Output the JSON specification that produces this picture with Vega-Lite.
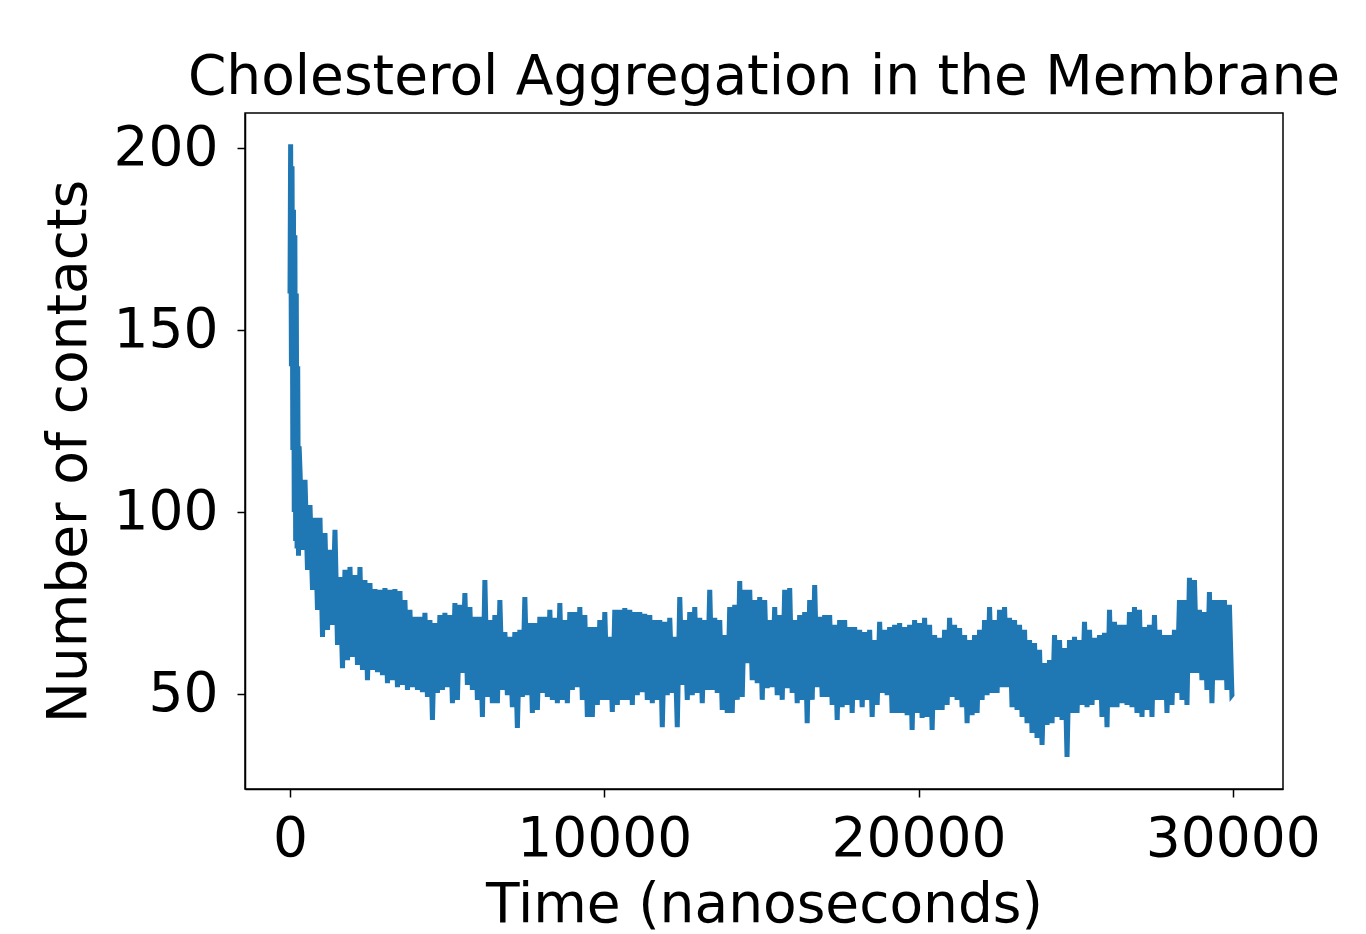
{
  "$schema": "https://vega.github.io/schema/vega-lite/v6.json",
  "width": 1038,
  "height": 676,
  "autosize": {"type": "none"},
  "padding": {"left": 245, "top": 113, "right": 83, "bottom": 145},
  "background": "white",
  "config": {
    "font": "DejaVu Sans",
    "view": {"stroke": "#000000", "strokeWidth": 1.5},
    "axis": {
      "labelFont": "DejaVu Sans",
      "titleFont": "DejaVu Sans",
      "labelFontSize": 55,
      "titleFontSize": 55,
      "titleFontWeight": "normal",
      "labelColor": "#000000",
      "titleColor": "#000000",
      "tickColor": "#000000",
      "tickSize": 8,
      "tickWidth": 1.5,
      "domainColor": "#000000",
      "domainWidth": 1.5,
      "grid": false
    }
  },
  "title": {
    "text": "Cholesterol Aggregation in the Membrane",
    "font": "DejaVu Sans",
    "fontSize": 55,
    "fontWeight": "normal",
    "color": "#000000",
    "anchor": "middle",
    "baseline": "alphabetic",
    "offset": 16,
    "dy": 52
  },
  "data": {
    "values": [
      {"t":0,"c":160},{"t":20,"c":201},{"t":45,"c":140},{"t":65,"c":195},{"t":90,"c":117},{"t":110,"c":183},{"t":135,"c":100},{"t":155,"c":176},{"t":180,"c":92},{"t":200,"c":160},{"t":225,"c":90},{"t":245,"c":140},{"t":270,"c":88},{"t":290,"c":118},
      {"t":318,"c":111.5},{"t":398,"c":89.6},
      {"t":477,"c":108.8},{"t":557,"c":84.1},
      {"t":636,"c":101.9},{"t":716,"c":78.6},
      {"t":795,"c":98.4},{"t":875,"c":73.1},
      {"t":954,"c":98.4},{"t":1034,"c":65.7},
      {"t":1113,"c":94.2},{"t":1193,"c":67.6},
      {"t":1272,"c":89.6},{"t":1352,"c":69.0},
      {"t":1431,"c":95.1},{"t":1511,"c":63.5},
      {"t":1590,"c":82.1},{"t":1670,"c":57.1},
      {"t":1749,"c":84.1},{"t":1829,"c":59.3},
      {"t":1908,"c":84.9},{"t":1988,"c":60.2},
      {"t":2067,"c":82.7},{"t":2147,"c":58.0},
      {"t":2226,"c":84.9},{"t":2306,"c":56.6},
      {"t":2385,"c":81.3},{"t":2465,"c":53.8},
      {"t":2544,"c":80.5},{"t":2624,"c":56.6},
      {"t":2703,"c":78.8},{"t":2783,"c":56.0},
      {"t":2862,"c":78.6},{"t":2942,"c":55.2},
      {"t":3021,"c":79.1},{"t":3101,"c":53.0},
      {"t":3180,"c":78.6},{"t":3260,"c":53.8},
      {"t":3339,"c":78.8},{"t":3419,"c":51.9},
      {"t":3498,"c":78.3},{"t":3578,"c":52.5},
      {"t":3657,"c":75.8},{"t":3737,"c":51.1},
      {"t":3816,"c":73.1},{"t":3896,"c":51.9},
      {"t":3975,"c":71.2},{"t":4055,"c":51.1},
      {"t":4134,"c":71.2},{"t":4214,"c":50.5},
      {"t":4293,"c":72.3},{"t":4373,"c":49.2},
      {"t":4452,"c":70.3},{"t":4532,"c":42.9},
      {"t":4611,"c":69.5},{"t":4691,"c":50.3},
      {"t":4770,"c":71.7},{"t":4850,"c":51.1},
      {"t":4929,"c":72.3},{"t":5009,"c":51.9},
      {"t":5088,"c":71.7},{"t":5168,"c":47.5},
      {"t":5247,"c":75.0},{"t":5327,"c":48.4},
      {"t":5406,"c":74.5},{"t":5486,"c":55.8},
      {"t":5565,"c":77.7},{"t":5645,"c":52.5},
      {"t":5724,"c":73.9},{"t":5804,"c":51.1},
      {"t":5883,"c":71.2},{"t":5963,"c":48.4},
      {"t":6042,"c":71.2},{"t":6122,"c":43.7},
      {"t":6201,"c":81.3},{"t":6281,"c":49.2},
      {"t":6360,"c":70.3},{"t":6440,"c":47.5},
      {"t":6519,"c":71.7},{"t":6599,"c":47.5},
      {"t":6678,"c":75.8},{"t":6758,"c":51.1},
      {"t":6837,"c":67.0},{"t":6917,"c":49.7},
      {"t":6996,"c":65.7},{"t":7076,"c":46.4},
      {"t":7155,"c":67.0},{"t":7235,"c":40.7},
      {"t":7314,"c":67.6},{"t":7394,"c":49.2},
      {"t":7473,"c":76.6},{"t":7553,"c":49.7},
      {"t":7632,"c":69.5},{"t":7712,"c":44.8},
      {"t":7791,"c":69.5},{"t":7871,"c":45.6},
      {"t":7950,"c":71.2},{"t":8030,"c":50.3},
      {"t":8109,"c":71.2},{"t":8189,"c":49.2},
      {"t":8268,"c":73.1},{"t":8348,"c":48.4},
      {"t":8427,"c":70.9},{"t":8507,"c":47.5},
      {"t":8586,"c":75.0},{"t":8666,"c":48.4},
      {"t":8745,"c":70.3},{"t":8825,"c":47.5},
      {"t":8904,"c":72.5},{"t":8984,"c":51.1},
      {"t":9063,"c":72.5},{"t":9143,"c":51.9},
      {"t":9222,"c":73.9},{"t":9302,"c":48.4},
      {"t":9381,"c":71.7},{"t":9461,"c":43.7},
      {"t":9540,"c":68.4},{"t":9620,"c":43.7},
      {"t":9699,"c":68.4},{"t":9779,"c":47.0},
      {"t":9858,"c":70.3},{"t":9938,"c":48.4},
      {"t":10017,"c":72.5},{"t":10097,"c":48.4},
      {"t":10176,"c":65.7},{"t":10256,"c":45.1},
      {"t":10335,"c":73.1},{"t":10415,"c":47.0},
      {"t":10494,"c":73.1},{"t":10574,"c":48.4},
      {"t":10653,"c":73.6},{"t":10733,"c":48.4},
      {"t":10812,"c":73.1},{"t":10892,"c":47.0},
      {"t":10971,"c":72.5},{"t":11051,"c":49.7},
      {"t":11130,"c":72.5},{"t":11210,"c":50.5},
      {"t":11289,"c":72.0},{"t":11369,"c":48.4},
      {"t":11448,"c":71.7},{"t":11528,"c":47.5},
      {"t":11607,"c":70.3},{"t":11687,"c":48.4},
      {"t":11766,"c":70.3},{"t":11846,"c":40.9},
      {"t":11925,"c":69.8},{"t":12005,"c":49.7},
      {"t":12084,"c":70.9},{"t":12164,"c":50.3},
      {"t":12243,"c":65.7},{"t":12323,"c":40.9},
      {"t":12402,"c":76.6},{"t":12482,"c":52.5},
      {"t":12561,"c":70.3},{"t":12641,"c":48.4},
      {"t":12720,"c":72.5},{"t":12800,"c":49.7},
      {"t":12879,"c":73.9},{"t":12959,"c":50.3},
      {"t":13038,"c":70.9},{"t":13118,"c":47.5},
      {"t":13197,"c":70.3},{"t":13277,"c":51.1},
      {"t":13356,"c":78.6},{"t":13436,"c":51.1},
      {"t":13515,"c":70.9},{"t":13595,"c":50.3},
      {"t":13674,"c":70.3},{"t":13754,"c":45.6},
      {"t":13833,"c":66.2},{"t":13913,"c":44.8},
      {"t":13992,"c":73.9},{"t":14072,"c":44.8},
      {"t":14151,"c":74.5},{"t":14231,"c":48.4},
      {"t":14310,"c":81.0},{"t":14390,"c":49.2},
      {"t":14469,"c":78.6},{"t":14549,"c":58.5},
      {"t":14628,"c":78.6},{"t":14708,"c":53.8},
      {"t":14787,"c":75.8},{"t":14867,"c":53.0},
      {"t":14946,"c":76.6},{"t":15026,"c":48.4},
      {"t":15105,"c":75.8},{"t":15185,"c":51.6},
      {"t":15264,"c":70.3},{"t":15344,"c":51.9},
      {"t":15423,"c":73.9},{"t":15503,"c":49.7},
      {"t":15582,"c":71.7},{"t":15662,"c":48.4},
      {"t":15741,"c":78.6},{"t":15821,"c":51.6},
      {"t":15900,"c":79.1},{"t":15980,"c":50.3},
      {"t":16059,"c":70.3},{"t":16139,"c":47.5},
      {"t":16218,"c":71.7},{"t":16298,"c":48.4},
      {"t":16377,"c":72.5},{"t":16457,"c":42.0},
      {"t":16536,"c":75.8},{"t":16616,"c":48.4},
      {"t":16695,"c":79.9},{"t":16775,"c":51.9},
      {"t":16854,"c":71.2},{"t":16934,"c":49.2},
      {"t":17013,"c":71.7},{"t":17093,"c":49.2},
      {"t":17172,"c":71.7},{"t":17252,"c":47.0},
      {"t":17331,"c":69.0},{"t":17411,"c":42.9},
      {"t":17490,"c":70.3},{"t":17570,"c":46.4},
      {"t":17649,"c":70.3},{"t":17729,"c":47.0},
      {"t":17808,"c":68.4},{"t":17888,"c":44.8},
      {"t":17967,"c":68.4},{"t":18047,"c":48.4},
      {"t":18126,"c":67.6},{"t":18206,"c":46.4},
      {"t":18285,"c":67.0},{"t":18365,"c":48.4},
      {"t":18444,"c":67.6},{"t":18524,"c":43.7},
      {"t":18603,"c":64.8},{"t":18683,"c":47.0},
      {"t":18762,"c":69.8},{"t":18842,"c":50.3},
      {"t":18921,"c":67.6},{"t":19001,"c":49.7},
      {"t":19080,"c":68.4},{"t":19160,"c":44.8},
      {"t":19239,"c":69.0},{"t":19319,"c":44.8},
      {"t":19398,"c":69.5},{"t":19478,"c":44.8},
      {"t":19557,"c":68.4},{"t":19637,"c":44.2},
      {"t":19716,"c":69.0},{"t":19796,"c":40.1},
      {"t":19875,"c":70.3},{"t":19955,"c":44.8},
      {"t":20034,"c":69.5},{"t":20114,"c":43.4},
      {"t":20193,"c":70.9},{"t":20273,"c":43.7},
      {"t":20352,"c":69.0},{"t":20432,"c":40.1},
      {"t":20511,"c":66.2},{"t":20591,"c":45.6},
      {"t":20670,"c":65.4},{"t":20750,"c":45.6},
      {"t":20829,"c":67.6},{"t":20909,"c":47.0},
      {"t":20988,"c":70.9},{"t":21068,"c":49.2},
      {"t":21147,"c":69.0},{"t":21227,"c":48.4},
      {"t":21306,"c":68.1},{"t":21386,"c":46.4},
      {"t":21465,"c":66.2},{"t":21545,"c":42.0},
      {"t":21624,"c":64.8},{"t":21704,"c":44.2},
      {"t":21783,"c":66.2},{"t":21863,"c":44.8},
      {"t":21942,"c":67.6},{"t":22022,"c":48.4},
      {"t":22101,"c":70.3},{"t":22181,"c":49.7},
      {"t":22260,"c":73.9},{"t":22340,"c":50.3},
      {"t":22419,"c":70.3},{"t":22499,"c":50.3},
      {"t":22578,"c":73.1},{"t":22658,"c":51.9},
      {"t":22737,"c":73.9},{"t":22817,"c":51.9},
      {"t":22896,"c":70.9},{"t":22976,"c":46.4},
      {"t":23055,"c":70.3},{"t":23135,"c":45.6},
      {"t":23214,"c":69.0},{"t":23294,"c":43.7},
      {"t":23373,"c":67.6},{"t":23453,"c":42.0},
      {"t":23532,"c":64.8},{"t":23612,"c":39.3},
      {"t":23691,"c":64.0},{"t":23771,"c":37.9},
      {"t":23850,"c":62.1},{"t":23930,"c":36.0},
      {"t":24009,"c":58.5},{"t":24089,"c":41.5},
      {"t":24168,"c":59.3},{"t":24248,"c":42.0},
      {"t":24327,"c":66.2},{"t":24407,"c":43.7},
      {"t":24486,"c":64.8},{"t":24566,"c":42.9},
      {"t":24645,"c":62.6},{"t":24725,"c":32.7},
      {"t":24804,"c":64.8},{"t":24884,"c":44.8},
      {"t":24963,"c":65.7},{"t":25043,"c":44.8},
      {"t":25122,"c":64.8},{"t":25202,"c":47.0},
      {"t":25281,"c":69.8},{"t":25361,"c":46.4},
      {"t":25440,"c":67.6},{"t":25520,"c":47.0},
      {"t":25599,"c":65.4},{"t":25679,"c":48.4},
      {"t":25758,"c":66.2},{"t":25838,"c":43.7},
      {"t":25917,"c":66.8},{"t":25997,"c":40.9},
      {"t":26076,"c":73.1},{"t":26156,"c":46.4},
      {"t":26235,"c":69.8},{"t":26315,"c":46.4},
      {"t":26394,"c":69.0},{"t":26474,"c":47.5},
      {"t":26553,"c":69.0},{"t":26633,"c":47.0},
      {"t":26712,"c":72.5},{"t":26792,"c":46.4},
      {"t":26871,"c":73.9},{"t":26951,"c":44.8},
      {"t":27030,"c":73.1},{"t":27110,"c":43.7},
      {"t":27189,"c":68.4},{"t":27269,"c":45.6},
      {"t":27348,"c":69.0},{"t":27428,"c":43.7},
      {"t":27507,"c":71.7},{"t":27587,"c":48.4},
      {"t":27666,"c":67.6},{"t":27746,"c":48.4},
      {"t":27825,"c":66.2},{"t":27905,"c":44.8},
      {"t":27984,"c":66.2},{"t":28064,"c":47.0},
      {"t":28143,"c":67.6},{"t":28223,"c":50.3},
      {"t":28302,"c":75.8},{"t":28382,"c":48.4},
      {"t":28461,"c":75.8},{"t":28541,"c":47.0},
      {"t":28620,"c":81.9},{"t":28700,"c":55.8},
      {"t":28779,"c":81.3},{"t":28859,"c":55.8},
      {"t":28938,"c":73.1},{"t":29018,"c":53.8},
      {"t":29097,"c":72.5},{"t":29177,"c":51.1},
      {"t":29256,"c":78.0},{"t":29336,"c":47.5},
      {"t":29415,"c":75.8},{"t":29495,"c":53.8},
      {"t":29574,"c":75.8},{"t":29654,"c":53.8},
      {"t":29733,"c":75.8},{"t":29813,"c":51.1},
      {"t":29892,"c":74.5},{"t":29972,"c":49.7},
      {"t":30000,"c":50.0}
    ]
  },
  "mark": {"type": "line", "color": "#1f77b4", "strokeWidth": 5, "clip": true},
  "encoding": {
    "x": {
      "field": "t",
      "type": "quantitative",
      "sort": null,
      "scale": {"domain": [-1432, 31597], "nice": false, "zero": false},
      "axis": {
        "title": "Time (nanoseconds)",
        "values": [0, 10000, 20000, 30000],
        "format": "d",
        "labelPadding": 15,
        "titlePadding": 12
      }
    },
    "y": {
      "field": "c",
      "type": "quantitative",
      "scale": {"domain": [23.9, 209.6], "nice": false, "zero": false},
      "axis": {
        "title": "Number of contacts",
        "values": [50, 100, 150, 200],
        "format": "d",
        "labelPadding": 19,
        "titlePadding": 16
      }
    }
  }
}
